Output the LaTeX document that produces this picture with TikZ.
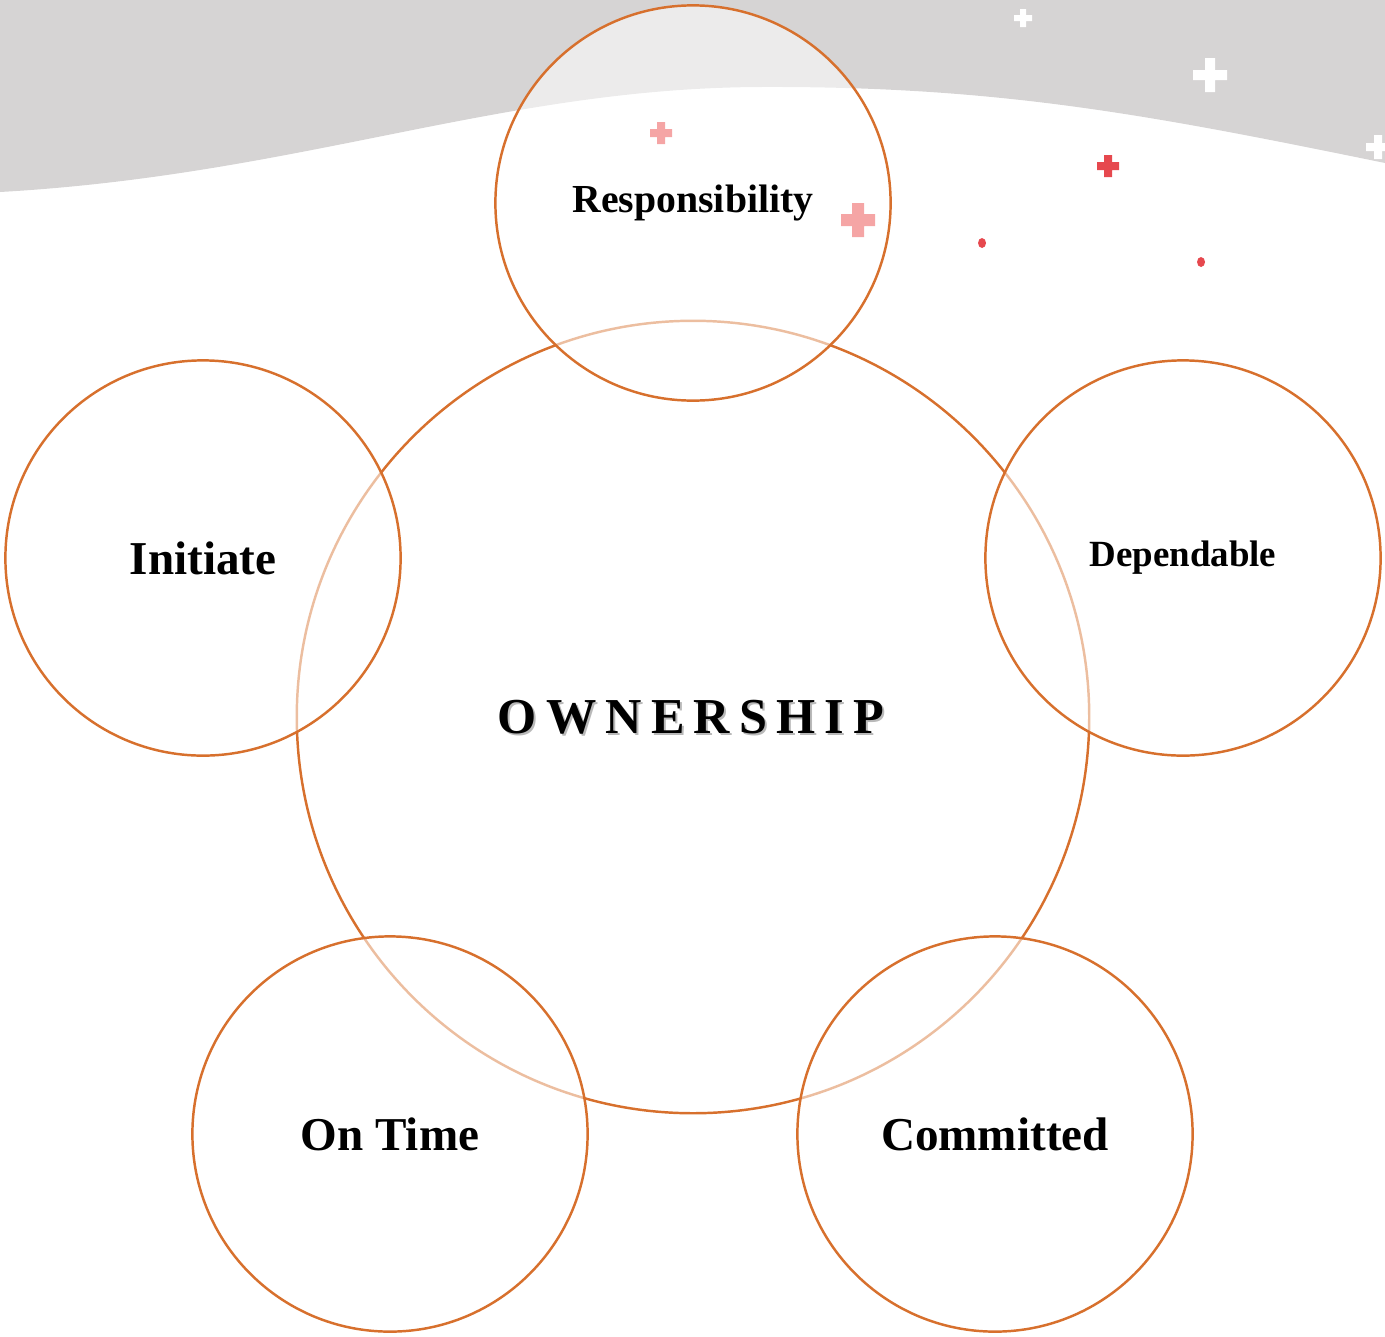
\documentclass[tikz,border=0pt]{standalone}
\usepackage{fontspec}
\setmainfont{Liberation Serif}
\definecolor{rim}{RGB}{215,112,45}
\definecolor{snow}{RGB}{214,212,212}
\definecolor{blush}{RGB}{245,165,165}
\definecolor{berry}{RGB}{230,72,78}
% plus sign: centre, half arm, half bar, colour
\newcommand{\plusmark}[4]{\fill[#4,shift={(#1)}] (-#2,-#3) rectangle (#2,#3) (-#3,-#2) rectangle (#3,#2);}
\newcommand{\spaced}{O\kern2.6pt W\kern2.6pt N\kern2.6pt E\kern2.6pt R\kern2.6pt S\kern2.6pt H\kern2.6pt I\kern2.6pt P}
\begin{document}
\begin{tikzpicture}[x=0.01cm, y=-0.01cm,
    petal/.style={circle, draw=rim, line width=0.7pt, fill=white, fill opacity=0.55, text opacity=1, inner sep=0pt, minimum size=3.95cm, font=\bfseries\fontsize{13.4}{16}\selectfont},
    core/.style={circle, draw=rim, line width=0.7pt, inner sep=0pt, minimum size=7.92cm}]
    \useasboundingbox (0,0) rectangle (1385,1336);
    % grey sky with the hill
    \fill[snow] (0,0) -- (1385,0) -- (1385,163) .. controls (1150,115) and (1000,86) .. (760,87)
        .. controls (500,88) and (300,175) .. (0,192) -- cycle;
    \plusmark{1023,18}{9}{3}{white}
    \plusmark{1210,75}{17}{5}{white}
    \plusmark{1378,147}{12}{4}{white}

    \node[core] (own) at (693,717) {};
    \node[gray, opacity=0.55, font=\bfseries\fontsize{14.3}{16}\selectfont] (ownshadow) at (693,719) {\spaced};
    \node[font=\bfseries\fontsize{14.3}{16}\selectfont] (ownlabel) at (691,717) {\spaced};

    \node[petal, font=\bfseries\fontsize{11.3}{14}\selectfont] (resp) at (693,203) {Responsibility};
    \node[petal] (init) at (203,558) {Initiate};
    \node[petal, font=\bfseries\fontsize{10.5}{13}\selectfont] (dep) at (1183,558) {Dependable};
    \node[petal] (time) at (390,1134) {On Time};
    \node[petal] (comm) at (995,1134) {Committed};

    \plusmark{661,133}{11}{4}{blush}
    \plusmark{858,220}{17}{6}{blush}
    \plusmark{1108,166}{11}{4}{berry}
    \fill[berry] (982,243) ellipse [x radius=4, y radius=5];
    \fill[berry] (1201,262) ellipse [x radius=4, y radius=5];
\end{tikzpicture}
\end{document}
